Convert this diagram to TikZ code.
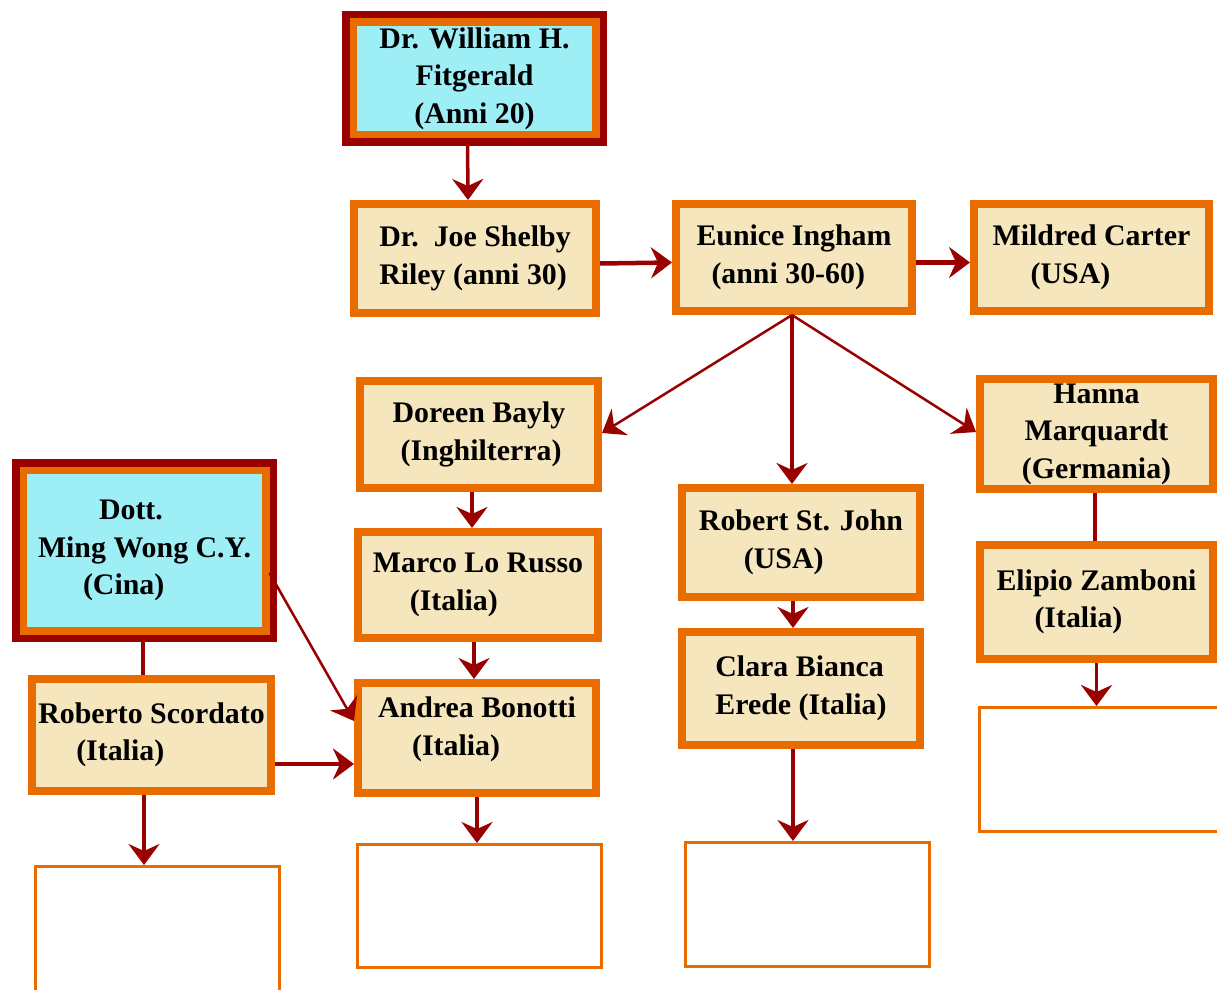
\documentclass[tikz,border=0pt]{standalone}
\usepackage{fontspec}
\setmainfont{Liberation Serif}
\usetikzlibrary{arrows.meta}

\definecolor{arancio}{HTML}{E86C00}
\definecolor{scuro}{HTML}{990000}
\definecolor{crema}{HTML}{F5E6BE}
\definecolor{celeste}{HTML}{9EEEF6}

\newdimen\pu \pu=0.02cm

\begin{document}
\begin{tikzpicture}[x=0.02cm, y=-0.02cm,
        persona/.style={draw=arancio, line width=8\pu, fill=crema, inner sep=0pt,
            align=left, font=\fontsize{17}{21.3}\selectfont\bfseries},
        maestro/.style={persona, fill=celeste, line width=7.5\pu,
            preaction={draw=scuro, line width=22.5\pu}},
        vuoto/.style={draw=arancio, line width=3\pu, fill=white, inner sep=0pt},
        misura/.style 2 args={minimum width=#1\pu, minimum height=#2\pu},
        freccia/.style={draw=scuro, line width=3.5\pu,
            -{Stealth[length=0.42cm, width=0.62cm, inset=0.14cm]}},
        linea/.style={draw=scuro, line width=3.5\pu}]

    \useasboundingbox (0,0) rectangle (1217,990);
    \clip (0,0) rectangle (1217,990);

    % Capostipiti
    \node[maestro, misura={242.5}{112.5}, align=center] (fitz) at (474.5,78.5)
        {Dr. William H.\\Fitgerald\\(Anni 20)};
    \node[maestro, misura={242.5}{160.5}] (ming) at (144.5,550.5)
        {\hspace*{61\pu}Dott.\\Ming Wong C.Y.\\\hspace*{45\pu}(Cina)};

    % Allievi
    \node[persona, misura={242}{109}] (joe) at (475,258.5) {Dr.\enspace Joe Shelby\\Riley (anni 30)};
    \node[persona, misura={236}{107}] (eunice) at (794,257.5) {Eunice Ingham\\\hspace*{15\pu}(anni 30-60)};
    \node[persona, misura={235}{107}] (mildred) at (1091.5,257.5) {Mildred Carter\\\hspace*{38\pu}(USA)};
    \node[persona, misura={238}{107}] (doreen) at (479,434.5) {Doreen Bayly\\\hspace*{8\pu}(Inghilterra)};
    \node[persona, misura={233}{110}, align=center] (hanna) at (1096.5,434) {Hanna\\Marquardt\\(Germania)};
    \node[persona, misura={238}{109}] (robert) at (801,542.5) {Robert St. John\\\hspace*{45\pu}(USA)};
    \node[persona, misura={240}{106}] (marco) at (478,585) {Marco Lo Russo\\\hspace*{37\pu}(Italia)};
    \node[persona, misura={238}{113}] (clara) at (801,688.5) {Clara Bianca\\Erede (Italia)};
    \node[persona, misura={233}{114}] (elipio) at (1096.5,602) {Elipio Zamboni\\\hspace*{38\pu}(Italia)};
    \node[persona, misura={239}{112}] (roberto) at (151.5,735) {Roberto Scordato\\\hspace*{38\pu}(Italia)};
    \node[persona, misura={238}{110}] (andrea) at (477,738) {Andrea Bonotti\\\hspace*{34\pu}(Italia)\\[-14\pu]};

    % Caselle vuote
    \node[vuoto, misura={244}{232}] (vuoto1) at (157.5,982.5) {};
    \node[vuoto, misura={244}{123}] (vuoto2) at (479.5,906) {};
    \node[vuoto, misura={244}{124}] (vuoto3) at (807.5,904.5) {};
    \node[vuoto, misura={279}{124}] (vuoto4) at (1119,769.5) {};

    % Frecce
    \draw[freccia] ([xshift=-7\pu]fitz.south) -- ([xshift=-7\pu]joe.north);
    \draw[freccia, line width=4.5\pu] ([yshift=-5\pu]joe.east) -- ([yshift=-5\pu]eunice.west);
    \draw[freccia, line width=4.5\pu] ([yshift=-5\pu]eunice.east) -- ([yshift=-5\pu]mildred.west);
    \draw[freccia, line width=2.5\pu] ([xshift=-2\pu]eunice.south) -- ([yshift=1.5\pu]doreen.east);
    \draw[freccia] ([xshift=-2\pu]eunice.south) -- ([xshift=-9\pu]robert.north);
    \draw[freccia, line width=2.5\pu] ([xshift=-2\pu]eunice.south) -- ([yshift=2\pu]hanna.west);
    \draw[freccia] ([xshift=-7\pu]doreen.south) -- ([xshift=-6\pu]marco.north);
    \draw[freccia] ([xshift=-4\pu]marco.south) -- ([xshift=-3\pu]andrea.north);
    \draw[freccia] ([xshift=-8\pu]robert.south) -- ([xshift=-8\pu]clara.north);
    \draw[linea] ([xshift=-1.5\pu]hanna.south) -- ([xshift=-1.5\pu]elipio.north);
    \draw[freccia] (elipio.south) -- (elipio.south |- vuoto4.north);
    \draw[linea] ([xshift=-1.5\pu]ming.south) -- ([xshift=-8.5\pu]roberto.north);
    \draw[freccia, line width=2.5\pu] ([yshift=-22.5\pu]ming.east) -- ([yshift=17\pu]andrea.west);
    \coordinate (rs) at ([yshift=-29\pu]roberto.east);
    \draw[freccia, line width=4.5\pu] (rs) -- (rs -| andrea.west);
    \coordinate (rb) at ([xshift=-7.5\pu]roberto.south);
    \draw[freccia] (rb) -- (rb |- vuoto1.north);
    \draw[freccia] (andrea.south) -- (andrea.south |- vuoto2.north);
    \coordinate (cb) at ([xshift=-8\pu]clara.south);
    \draw[freccia] (cb) -- (cb |- vuoto3.north);
\end{tikzpicture}
\end{document}
